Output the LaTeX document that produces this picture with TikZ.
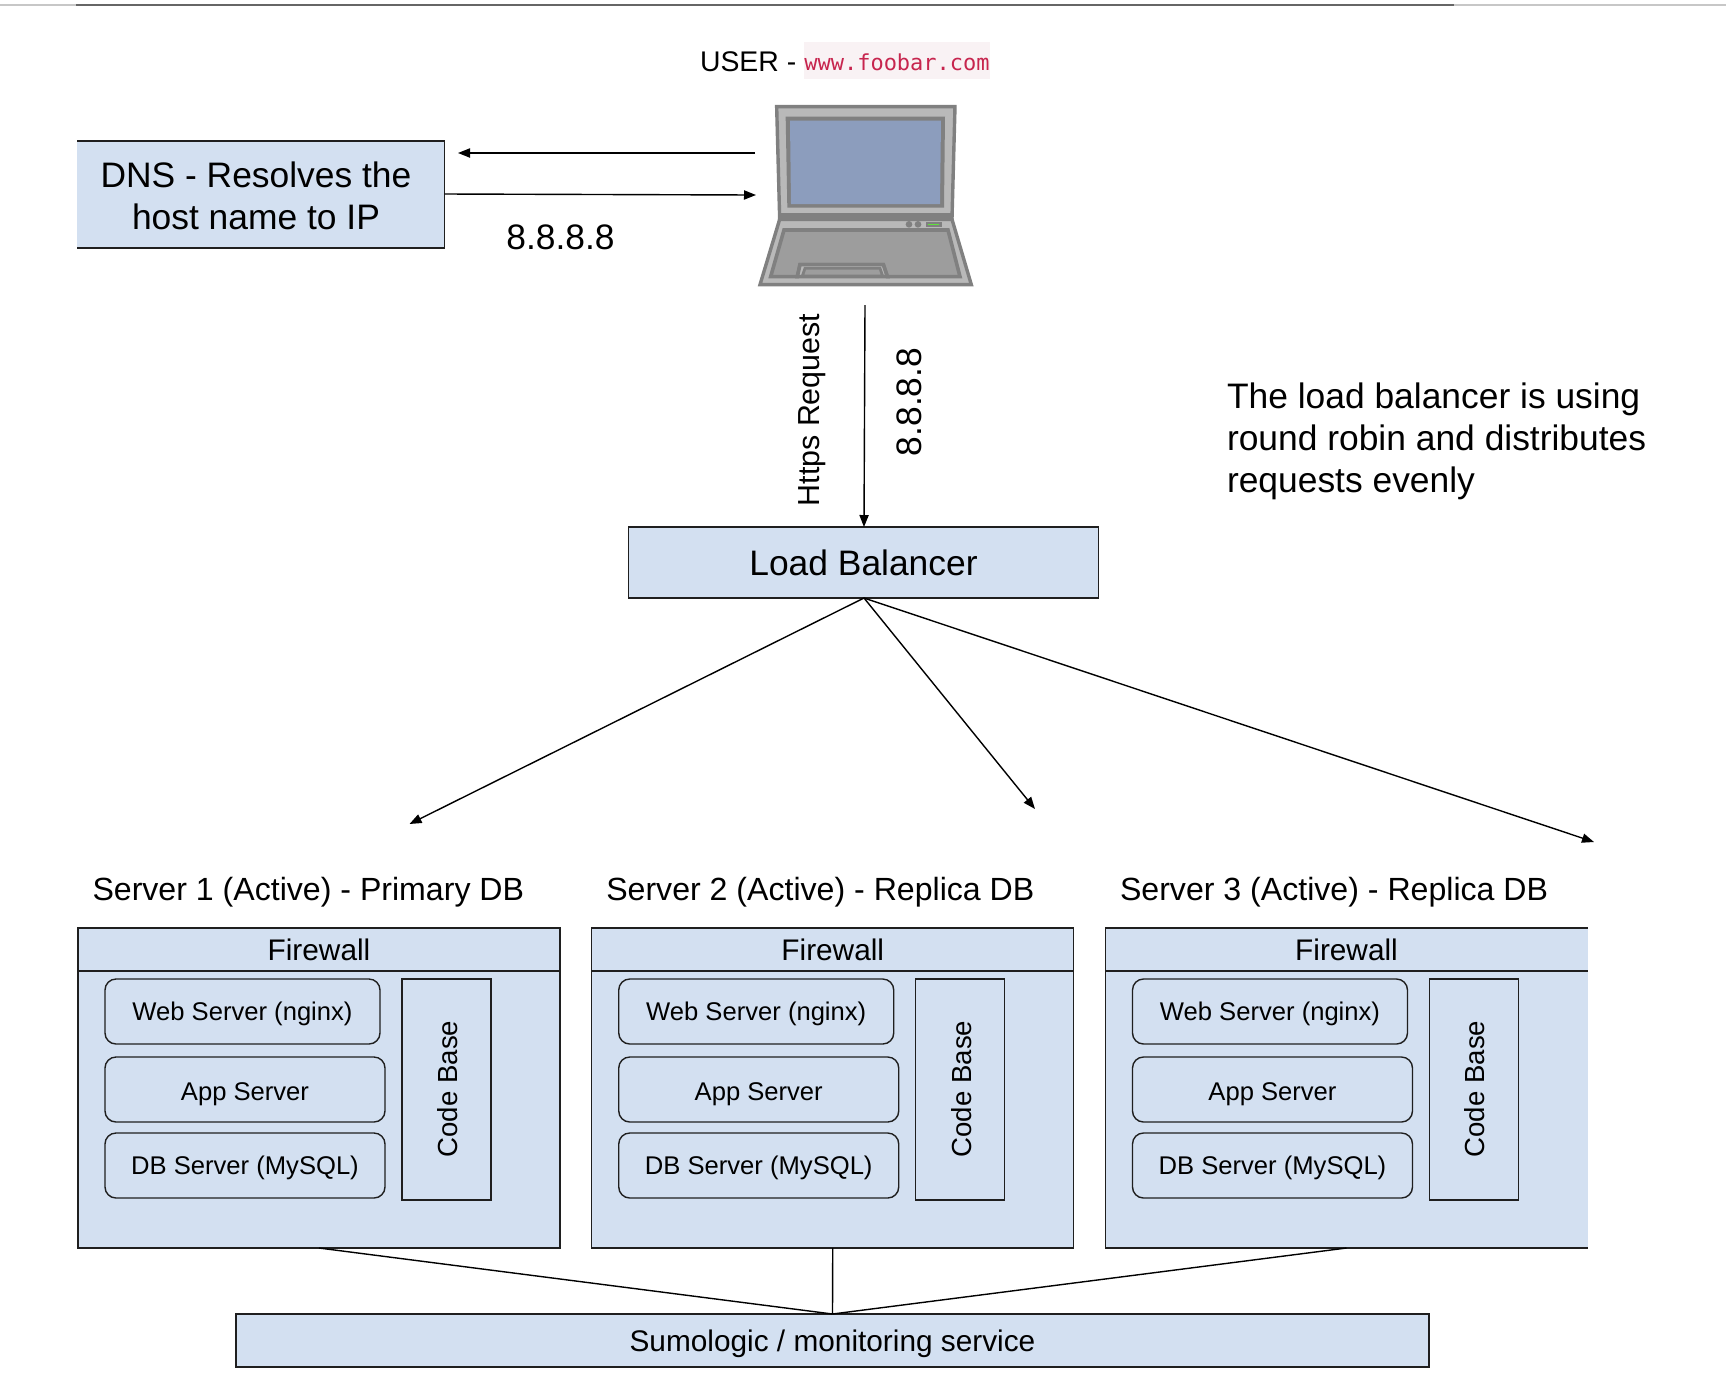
\documentclass[tikz,border=0pt]{standalone}
\usepackage{fontspec}
\setmainfont{Liberation Sans}
\newfontfamily\codefont{DejaVu Sans Mono}
\usetikzlibrary{arrows.meta}
\definecolor{boxblue}{HTML}{D3E0F1}
\definecolor{inkline}{HTML}{1F1F1F}
\definecolor{lapdark}{HTML}{808080}
\definecolor{laplight}{HTML}{B9B9B9}
\definecolor{lapkeys}{HTML}{9D9D9D}
\definecolor{lapblue}{HTML}{8C9DBD}
\definecolor{lapgreen}{HTML}{5FE23A}
\definecolor{codered}{HTML}{C7254E}
\definecolor{codebg}{HTML}{F9F2F4}
\tikzset{
  solidbox/.style={fill=boxblue,draw=inkline,line width=0.7pt,inner sep=0pt,outer sep=0pt,text=black,align=center},
  openbox/.style={fill=boxblue,inner sep=0pt,outer sep=0pt,text=black,align=center},
  edgeline/.style={draw=inkline,line width=0.7pt},
  roundbox/.style={solidbox,rounded corners=5.5pt,minimum height=32.5pt,text depth=0pt},
  arrowline/.style={draw=black,line width=0.7pt,-{Triangle[length=6pt,width=4.6pt]}},
  plainline/.style={draw=black,line width=0.7pt},
  label/.style={inner sep=0pt,outer sep=0pt,text=black},
  bigtext/.style={font=\fontsize{17.7}{21}\selectfont},
  srvtext/.style={font=\fontsize{16.05}{20}\selectfont},
  fwtext/.style={font=\fontsize{14.9}{18}\selectfont},
  smalltext/.style={font=\fontsize{12.8}{16}\selectfont},
  lid/.style={draw=lapdark,line width=1.7pt,fill=laplight,line join=miter}
}
\begin{document}
\begin{tikzpicture}[x=0.5pt,y=-0.5pt]
\useasboundingbox (0,0) rectangle (1726,1378);
% top rule
\fill[color=black!22] (0,3.8) rectangle (1726,6.2);
\fill[color=black!60] (76,3.8) rectangle (1454,6.2);
% USER label
\node[label,anchor=west,font=\fontsize{14.2}{17}\selectfont] (user) at (700,61.5) {USER -};
\node[fill=codebg,text=codered,inner sep=0pt,outer sep=0pt,minimum width=93pt,minimum height=18.5pt,text height=10.5pt,text depth=0pt,font=\codefont\fontsize{11}{13}\selectfont] (url) at (897,60) {www.foobar.com};
% laptop
\begin{scope}[shift={(680,30)},scale=1/3]
  \path[lid] (290,230)--(825,230)--(816,566)--(299,566)--cycle;
  \fill[lapdark] (297,548)--(818,548)--(818,570)--(297,570)--cycle;
  \fill[lapdark] (317,260)--(795,260)--(792,533)--(322,533)--cycle;
  \fill[lapblue] (330,272)--(783,272)--(780,522)--(333,522)--cycle;
  \path[lid] (299,568)--(816,568)--(874,764)--(240,764)--cycle;
  \path[draw=lapdark,line width=1.8pt,fill=lapkeys] (312,600)--(804,600)--(840,740)--(622,740)--(610,704)--(360,704)--(352,740)--(272,740)--cycle;
  \path[draw=lapdark,line width=1.8pt,fill=laplight] (360,704)--(610,704)--(622,740)--(352,740)--cycle;
  \path[draw=lapdark,line width=1.4pt,fill=lapkeys] (375,715)--(600,715)--(608,738)--(367,738)--cycle;
  \fill[lapdark] (687,583) circle[radius=10];
  \fill[lapdark] (714,583) circle[radius=10];
  \fill[lapdark] (738,576) rectangle (785,591);
  \draw[lapgreen,line width=0.7pt] (745,583)--(778,583);
\end{scope}
\coordinate (lapout) at (755,153);
\coordinate (lapin) at (756,195);
\coordinate (lapbottom) at (865,305);
% DNS
\node[openbox,anchor=north west,minimum width=183.75pt,minimum height=53.5pt] (dns) at (77,141) {};
\draw[edgeline] (dns.north west)--(dns.north east)--(dns.south east)--(dns.south west);
\node[label,align=center,bigtext] (dnstext) at (256,196) {DNS - Resolves the\\host name to IP};
\coordinate (dnsin) at (458,153);
\coordinate (dnsout) at (444.5,194);
\draw[arrowline] (lapout)--(dnsin);
\draw[arrowline] (dnsout)--(lapin);
\node[label,bigtext] (ip1) at (560.5,237) {8.8.8.8};
% load balancer
\node[solidbox,anchor=north west,minimum width=235pt,minimum height=35.5pt,bigtext] (lb) at (628.5,527) {Load Balancer};
\coordinate (lbin) at (864,527);
\coordinate (lbout) at (864,598);
\draw[arrowline] (lapbottom)--(lbin);
\node[label,rotate=90,font=\fontsize{15.2}{18}\selectfont] (https) at (812,410) {Https Request};
\node[label,rotate=90,bigtext] (ip2) at (909,402) {8.8.8.8};
\node[label,anchor=west,align=left,bigtext] (note) at (1227,441.5) {The load balancer is using\\round robin and distributes\\requests evenly};
% distribution arrows
\coordinate (to1) at (409.5,824);
\coordinate (to2) at (1035,809);
\coordinate (to3) at (1594,842);
\draw[arrowline] (lbout)--(to1);
\draw[arrowline] (lbout)--(to2);
\draw[arrowline] (lbout)--(to3);
% sumologic
\node[solidbox,anchor=north west,minimum width=596.5pt,minimum height=26.5pt,fwtext,text height=11pt,text depth=0pt] (sumo) at (236,1314) {Sumologic / monitoring service};
% servers
\foreach \i/\dx/\role in {1/0/Primary,2/513.75/Replica,3/1027.5/Replica}{
\begin{scope}[shift={(\dx,0)}]
  \node[label,anchor=west,srvtext] (title\i) at (92.5,892) {Server \i\ (Active) - \role\ DB};
  \node[openbox,anchor=north west,minimum width=241pt,minimum height=21.5pt,fwtext] (fw\i) at (78,928) {Firewall};
  \node[openbox,anchor=north west,minimum width=241pt,minimum height=138.5pt] (srv\i) at (78,971) {};
  \draw[edgeline] (fw\i.south west)--(fw\i.south east);
  \ifnum\i<3
    \draw[edgeline] (fw\i.north west) rectangle (srv\i.south east);
  \else
    \draw[edgeline] (fw\i.north east)--(fw\i.north west)--(srv\i.south west)--(srv\i.south east);
  \fi
  \node[roundbox,anchor=north west,minimum width=137.5pt,smalltext,text height=9pt] (web\i) at (105,979) {Web Server (nginx)};
  \node[roundbox,anchor=north west,minimum width=140pt,smalltext,text height=10.5pt] (app\i) at (105,1057) {App Server};
  \node[roundbox,anchor=north west,minimum width=140pt,smalltext,text height=9pt] (db\i) at (105,1133) {DB Server (MySQL)};
  \node[solidbox,anchor=north west,minimum width=44.5pt,minimum height=110.5pt] (code\i) at (402,979) {};
  \node[label,rotate=90,font=\fontsize{13.8}{16}\selectfont] (codelabel\i) at (447.5,1089) {Code Base};
  \draw[plainline] (srv\i.south)--(sumo.north);
\end{scope}
}
\end{tikzpicture}
\end{document}
